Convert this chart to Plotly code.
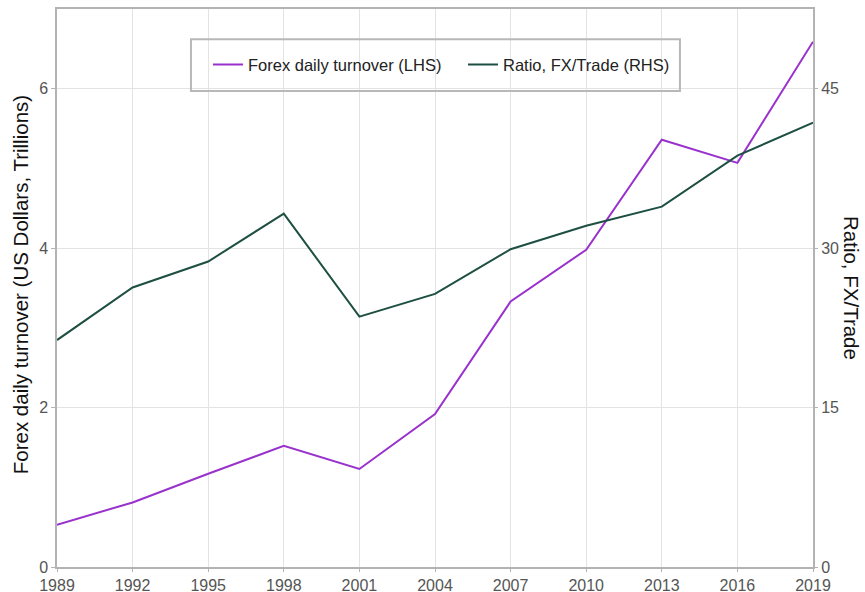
import plotly.graph_objects as go

years = [1989, 1992, 1995, 1998, 2001, 2004, 2007, 2010, 2013, 2016, 2019]
forex_turnover = [0.53, 0.81, 1.17, 1.52, 1.23, 1.92, 3.33, 3.98, 5.36, 5.07, 6.59]
ratio_fx_trade = [21.35, 26.3, 28.74, 33.25, 23.55, 25.7, 29.9, 32.1, 33.9, 38.7, 41.8]
left_ticks = [0, 2, 4, 6]
right_ticks = [0, 15, 30, 45]

PURPLE = "#9932cc"
GREEN = "#1d4f42"
AXIS = "#b3b3b3"
GRID = "#e3e3e3"
FAMILY = "Liberation Sans, Arial, sans-serif"
TICKFONT = dict(family=FAMILY, size=16, color="#555555")

fig = go.Figure()
fig.add_trace(go.Scatter(x=years, y=forex_turnover, mode="lines",
                         name="Forex daily turnover (LHS)",
                         line=dict(color=PURPLE, width=2)))
fig.add_trace(go.Scatter(x=years, y=ratio_fx_trade, mode="lines",
                         name="Ratio, FX/Trade (RHS)", yaxis="y2",
                         line=dict(color=GREEN, width=2)))

fig.update_layout(
    width=865, height=592,
    margin=dict(l=57, r=52, t=9, b=25),
    paper_bgcolor="white", plot_bgcolor="white",
    font=dict(family=FAMILY, size=16, color="#222222"),
    showlegend=True,
    legend=dict(orientation="h", x=0.1997, y=0.9, xanchor="left", yanchor="middle",
                borderwidth=0, bgcolor="rgba(0,0,0,0)",
                font=dict(size=16.5, color="#222222"), entrywidth=210),
    xaxis=dict(range=[1989, 2019], tickvals=years, ticktext=[str(y) for y in years],
               showgrid=True, gridcolor=GRID, gridwidth=1, automargin=False,
               showline=True, linecolor=AXIS, linewidth=1.5, mirror=True,
               ticks="outside", ticklen=3, tickcolor=AXIS, tickfont=TICKFONT,
               zeroline=False),
    yaxis=dict(range=[0, 7], tickvals=left_ticks, automargin=False,
               showgrid=True, gridcolor=GRID, gridwidth=1,
               showline=True, linecolor=AXIS, linewidth=1.5, mirror=True,
               ticks="outside", ticklen=4, tickcolor=AXIS, tickfont=TICKFONT,
               zeroline=False),
    yaxis2=dict(range=[0, 52.5], tickvals=right_ticks, overlaying="y", side="right",
                showgrid=False, showline=False, zeroline=False, automargin=False,
                ticks="outside", ticklen=4, tickcolor=AXIS, tickfont=TICKFONT),
)

# legend frame
fig.add_shape(type="rect", xref="paper", yref="paper",
              x0=0.1772, x1=0.824, y0=0.853, y1=0.946,
              line=dict(color="#b8b8b8", width=2), fillcolor="rgba(0,0,0,0)",
              layer="above")

fig.add_annotation(text="Forex daily turnover (US Dollars, Trillions)", textangle=-90,
                   xref="paper", yref="paper", x=-0.0489, y=0.505,
                   xanchor="center", yanchor="middle", showarrow=False,
                   font=dict(size=20.5, color="#111111"))
fig.add_annotation(text="Ratio, FX/Trade", textangle=90, xref="paper", yref="paper",
                   x=1.0516, y=0.5, xanchor="center", yanchor="middle", showarrow=False,
                   font=dict(size=20.5, color="#111111"))

fig.write_html("out.html", config={"displayModeBar": False},
               post_script="document.body.style.margin='0';document.body.style.padding='0';")
